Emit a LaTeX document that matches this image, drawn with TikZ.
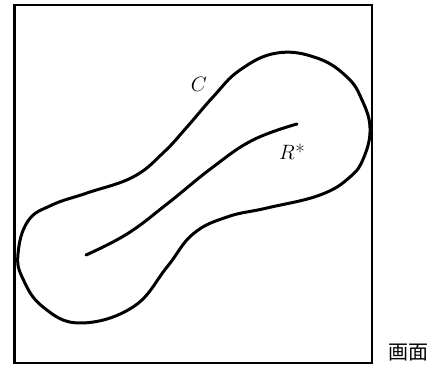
\documentclass[tikz,border=0pt]{standalone}
\usepackage{fontspec}
\newfontfamily\cjk{Noto Sans CJK JP}
\usepackage{tikz}
\usetikzlibrary{positioning}

\begin{document}
\begin{tikzpicture}[
    x=1pt, y=-1pt,
    frame/.style={draw=black, line width=2.6pt},
    curve/.style={draw=black, line width=3pt, line cap=round, line join=round},
    lbl/.style={inner sep=0pt, font=\fontsize{20.74}{25}\selectfont}
]
    \useasboundingbox (0,0) rectangle (434,366);

    % Screen frame
    \draw[frame] (14.5,5) rectangle (372,363);

    % Closed contour
    \draw[curve] plot[smooth cycle, tension=0.7] coordinates {
        (18,254) (28,221) (52,205) (87,193) (133,177) (163,153)
        (187,127) (213,97) (240,70) (277,53) (317,58) (347,77)
        (362,100) (370,128) (364,157) (350,177) (320,195) (267,208)
        (227,217) (193,234) (167,267) (133,307) (80,323) (43,307)
        (23,279)};

    % Inner skeleton curve
    \draw[curve] plot[smooth, tension=0.7] coordinates {
        (86,255) (127,234) (167,204) (213,167) (253,140) (297,124)};

    % Labels
    \node[lbl] (lblC) at (199,84) {$C$};
    \node[lbl] (lblR) at (292,152) {$R$\kern0.5pt*};
    \node[inner sep=0pt, anchor=base west, font=\fontsize{20}{24}\selectfont] (screen) at (388,359) {\cjk 画面};
\end{tikzpicture}
\end{document}
